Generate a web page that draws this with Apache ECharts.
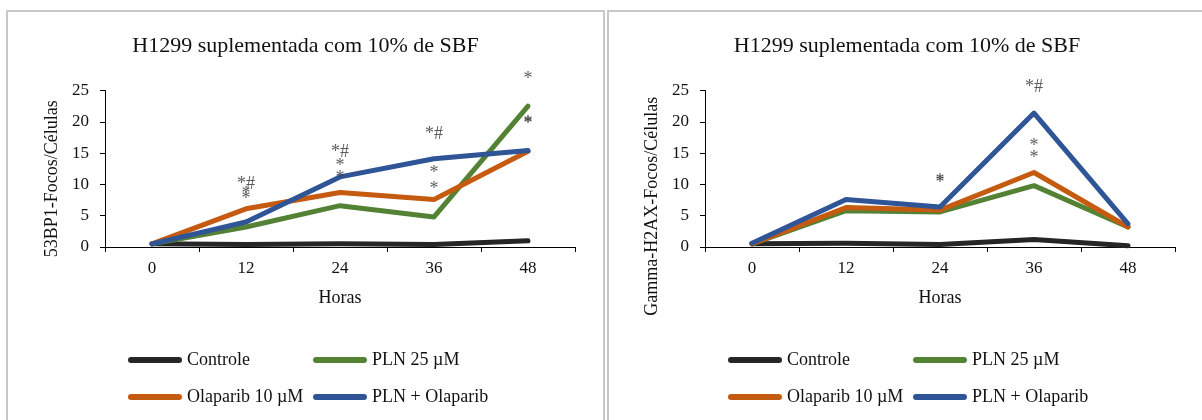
<!DOCTYPE html>
<html>
<head>
<meta charset="utf-8">
<script src="https://cdn.jsdelivr.net/npm/echarts@6/dist/echarts.min.js"></script>
<style>
  html, body { margin: 0; padding: 0; width: 1202px; height: 420px; overflow: hidden; background: #fff; }
  .panel { position: absolute; top: 10px; height: 440px; border: 2px solid #c8c8c8; box-sizing: border-box; background: #fff; }
  #p1 { left: 6px; width: 599px; }
  #p2 { left: 607px; width: 600px; }
  .chart { position: absolute; left: 0; top: 0; width: 100%; height: 420px; }
</style>
</head>
<body>
<div class="panel" id="p1"><div class="chart" id="c1"></div></div>
<div class="panel" id="p2"><div class="chart" id="c2"></div></div>
<script>
// ---- data ----
const hours = ['0', '12', '24', '36', '48'];
const seriesNames = ['Controle', 'PLN 25 µM', 'Olaparib 10 µM', 'PLN + Olaparib'];
const seriesColors = ['#262626', '#548235', '#C55A11', '#2F5597'];

// 53BP1 foci per cell
const ctrl53 = [0.5, 0.4, 0.5, 0.4, 1.0];
const pln53 = [0.5, 3.2, 6.6, 4.8, 22.5];
const ola53 = [0.5, 6.1, 8.7, 7.6, 15.3];
const combo53 = [0.5, 4.0, 11.2, 14.1, 15.4];

// Gamma-H2AX foci per cell
const ctrlH2 = [0.5, 0.6, 0.4, 1.2, 0.2];
const plnH2 = [0.5, 5.8, 5.6, 9.8, 3.2];
const olaH2 = [0.5, 6.3, 5.9, 11.9, 3.2];
const comboH2 = [0.6, 7.6, 6.4, 21.4, 3.7];

// significance marks: [hour, y position, text]
const marks53 = [
  ['12', 10.7, '*#'], ['12', 9.0, '*'], ['12', 8.3, '*'],
  ['24', 15.8, '*#'], ['24', 13.5, '*'], ['24', 11.6, '*'],
  ['36', 18.7, '*#'], ['36', 12.4, '*'], ['36', 9.9, '*'],
  ['48', 27.5, '*'], ['48', 20.4, '*'], ['48', 20.2, '*']
];
const marksH2 = [
  ['24', 11.1, '*'], ['24', 10.8, '*'],
  ['36', 26.1, '*#'], ['36', 16.8, '*'], ['36', 14.8, '*']
];

const yMin = 0, yMax = 25, yStep = 5;
const titleText = 'H1299 suplementada com 10% de SBF';
const xName = 'Horas';

const FONT = '"Liberation Serif", "Times New Roman", serif';
const TXT = '#111';
const legendIcon = 'path://M3,0 L51,0 A3,3 0 0 1 51,6 L3,6 A3,3 0 0 1 3,0 Z';

function makeOption(yName, yNamePadRight, data, marks, gridLeft, legLeft1, legLeft2) {
  const lines = data.map((vals, i) => ({
    name: seriesNames[i],
    type: 'line',
    data: vals,
    symbol: 'none',
    color: seriesColors[i],
    lineStyle: { width: 5, color: seriesColors[i], cap: 'round', join: 'round' },
    animation: false,
    z: 2 + i
  }));
  const markSeries = {
    name: 'marks',
    type: 'scatter',
    data: marks,
    symbolSize: 0,
    clip: false,
    silent: true,
    animation: false,
    z: 10,
    label: {
      show: true,
      position: 'inside',
      offset: [0, 4],
      formatter: p => p.data[2],
      fontFamily: FONT,
      fontSize: 18,
      color: '#333'
    }
  };
  const legendBase = {
    orient: 'vertical',
    top: 334,
    itemWidth: 54,
    itemHeight: 7,
    itemGap: 19,
    icon: legendIcon,
    selectedMode: false,
    textStyle: { fontFamily: FONT, fontSize: 18, color: TXT }
  };
  return {
    animation: false,
    title: {
      text: titleText,
      left: 'center',
      top: 18,
      textStyle: { fontFamily: FONT, fontSize: 22, fontWeight: 'normal', color: TXT }
    },
    legend: [
      Object.assign({}, legendBase, { left: legLeft1, data: [seriesNames[0], seriesNames[2]] }),
      Object.assign({}, legendBase, { left: legLeft2, data: [seriesNames[1], seriesNames[3]] })
    ],
    grid: { left: gridLeft, top: 78.5, width: 470, height: 156.5, containLabel: false },
    xAxis: {
      type: 'category',
      data: hours,
      boundaryGap: true,
      name: xName,
      nameLocation: 'middle',
      nameGap: 42,
      nameTextStyle: { fontFamily: FONT, fontSize: 18, color: TXT },
      axisLine: { lineStyle: { color: '#000', width: 1 } },
      axisTick: { show: true, length: 5, lineStyle: { color: '#000' } },
      axisLabel: { margin: 13, fontFamily: FONT, fontSize: 17, color: TXT },
      splitLine: { show: false }
    },
    yAxis: {
      type: 'value',
      min: yMin, max: yMax, interval: yStep,
      name: yName,
      nameLocation: 'middle',
      nameGap: 43,
      nameTextStyle: { fontFamily: FONT, fontSize: 18, color: TXT, padding: [0, yNamePadRight, 0, 0] },
      axisLine: { show: true, lineStyle: { color: '#000', width: 1 } },
      axisTick: { show: true, length: 5, lineStyle: { color: '#000' } },
      axisLabel: { margin: 16, fontFamily: FONT, fontSize: 17, color: TXT },
      splitLine: { show: false }
    },
    series: lines.concat([markSeries])
  };
}

const c1 = echarts.init(document.getElementById('c1'), null, { renderer: 'canvas' });
c1.setOption(makeOption('53BP1-Focos/Células', 20, [ctrl53, pln53, ola53, combo53], marks53, 97, 115, 300));
const c2 = echarts.init(document.getElementById('c2'), null, { renderer: 'canvas' });
c2.setOption(makeOption('Gamma-H2AX-Focos/Células', 75, [ctrlH2, plnH2, olaH2, comboH2], marksH2, 96, 114, 299));
</script>
</body>
</html>
